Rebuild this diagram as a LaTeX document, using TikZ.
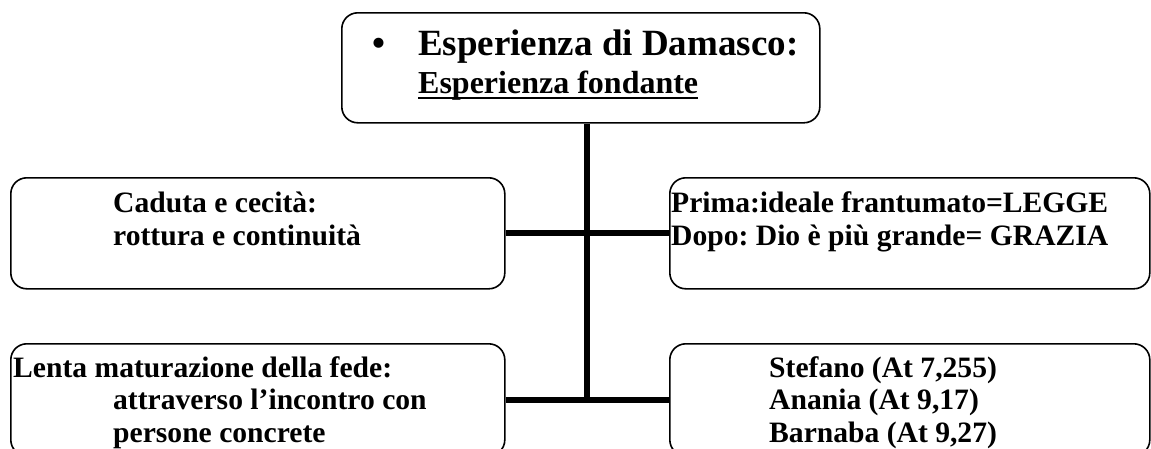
\documentclass[tikz,border=0pt]{standalone}
\usepackage{fontspec}
\setmainfont{Liberation Serif}
\frenchspacing
\usetikzlibrary{positioning}
\tikzset{
	boxnode/.style={
		draw=black,
		line width=1.6pt,
		rounded corners=16pt,
		anchor=north west,
		inner sep=0pt
	},
	textnode/.style={
		anchor=base west,
		align=left,
		inner sep=0pt,
		font=\bfseries\fontsize{29.6}{32.5}\selectfont
	},
	linkline/.style={
		line width=6pt,
		color=black
	}
}
\newcommand{\ulined}[1]{\setbox0\hbox{#1}\rlap{\rule[-6pt]{\wd0}{2.4pt}}\box0}

\begin{document}
\begin{tikzpicture}[x=1pt,y=-1pt]
		\useasboundingbox (0,0) rectangle (1151,448);
		
		% Top box
		\node[boxnode, minimum width=478pt, minimum height=110pt] (dam) at (341,12) {};
		\node[textnode, anchor=base, font=\bfseries\fontsize{37}{38}\selectfont] (bul) at (379,55) {\textbullet};
		\node[textnode, font=\bfseries\fontsize{37}{38}\selectfont] (damtxt) at (418,93)
		{Esperienza di Damasco:\\
			{\fontsize{32}{38}\selectfont\ulined{Esperienza fondante}}};
		
		% Row 1
		\node[boxnode, minimum width=494pt, minimum height=111pt] (cad) at (10,177) {};
		\node[textnode] (cadtxt) at (113,245)
		{Caduta e cecità:\\
			rottura e continuità};
		
		\node[boxnode, minimum width=480pt, minimum height=111pt] (pri) at (669,177) {};
		\node[textnode] (pritxt) at (671,245)
		{Prima:ideale frantumato=LEGGE\\
			Dopo: Dio è più grande= GRAZIA};
		
		% Row 2
		\node[boxnode, minimum width=494pt, minimum height=112pt] (len) at (10,343) {};
		\node[textnode] (lentxt) at (13,442)
		{Lenta maturazione della fede:\\
			\hspace*{100pt}attraverso l’incontro con\\
			\hspace*{100pt}persone concrete};
		
		\node[boxnode, minimum width=480pt, minimum height=112pt] (ste) at (669,343) {};
		\node[textnode] (stetxt) at (769,442)
		{Stefano (At 7,255)\\
			Anania (At 9,17)\\
			Barnaba (At 9,27)};
		
		% Connectors
		\coordinate (spine) at (587,233);
		\draw[linkline] (dam.south -| spine) -- (spine |- len.east);
		\draw[linkline] (cad.east) -- (pri.west);
		\draw[linkline] (len.east) -- (ste.west);
		
	\end{tikzpicture}
\end{document}
